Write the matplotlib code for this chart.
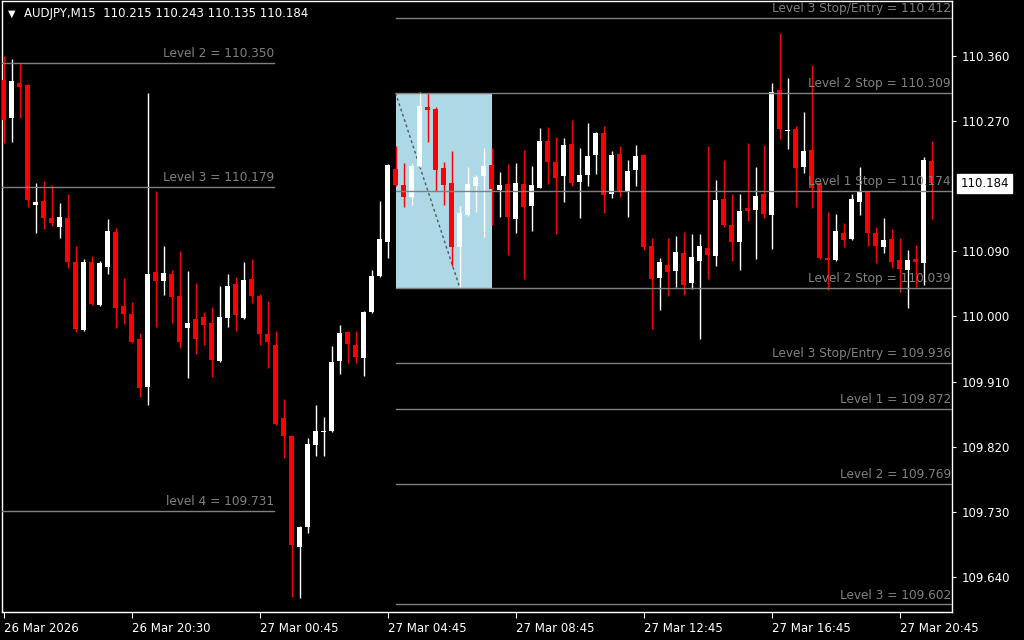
import matplotlib.pyplot as plt
import matplotlib.patches as mpatches
import numpy as np

# AUDJPY M15 candles
opens = [110.327, 110.274, 110.323, 110.320, 110.154, 110.160, 110.136, 110.124, 110.136, 110.075,
         109.981, 110.075, 110.016, 110.068, 110.117, 110.015, 110.003, 109.969, 109.903, 110.062,
         110.049, 110.059, 110.028, 109.984, 109.997, 109.999, 109.991, 109.938, 109.998, 110.045,
         109.998, 110.052, 110.028, 109.976, 109.961, 109.860, 109.835, 109.681, 109.709, 109.822,
         109.840, 109.842, 109.938, 109.979, 109.961, 109.942, 110.006, 110.056, 110.103, 110.204,
         110.182, 110.165, 110.208, 110.289, 110.287, 110.205, 110.185, 110.096, 110.140, 110.180,
         110.194, 110.209, 110.175, 110.183, 110.135, 110.183, 110.153, 110.178, 110.243, 110.214,
         110.194, 110.238, 110.186, 110.196, 110.223, 110.254, 110.169, 110.225, 110.173, 110.202,
         110.223, 110.097, 110.053, 110.071, 110.063, 110.088, 110.046, 110.077, 110.095, 110.084,
         110.162, 110.126, 110.103, 110.150, 110.147, 110.169, 110.140, 110.313, 110.256, 110.259,
         110.207, 110.230, 110.185, 110.081, 110.078, 110.115, 110.107, 110.158, 110.173, 110.115,
         110.096, 110.107, 110.078, 110.064, 110.079, 110.074, 110.215]
highs = [110.360, 110.356, 110.350, 110.321, 110.185, 110.187, 110.182, 110.157, 110.169, 110.097,
         110.079, 110.084, 110.076, 110.135, 110.122, 110.053, 110.020, 109.977, 110.309, 110.173,
         110.097, 110.064, 110.091, 110.063, 110.046, 110.006, 110.013, 110.042, 110.059, 110.055,
         110.075, 110.079, 110.031, 110.021, 109.980, 109.886, 109.836, 109.710, 109.832, 109.878,
         109.861, 109.959, 109.988, 109.980, 109.980, 110.007, 110.064, 110.160, 110.211, 110.236,
         110.212, 110.211, 110.310, 110.309, 110.289, 110.214, 110.229, 110.153, 110.207, 110.196,
         110.233, 110.233, 110.200, 110.211, 110.212, 110.230, 110.208, 110.261, 110.262, 110.248,
         110.247, 110.272, 110.233, 110.267, 110.255, 110.263, 110.229, 110.236, 110.216, 110.237,
         110.224, 110.108, 110.081, 110.108, 110.111, 110.117, 110.114, 110.114, 110.236, 110.189,
         110.216, 110.169, 110.169, 110.240, 110.207, 110.237, 110.323, 110.392, 110.330, 110.263,
         110.283, 110.348, 110.186, 110.144, 110.142, 110.129, 110.169, 110.207, 110.174, 110.124,
         110.136, 110.121, 110.108, 110.092, 110.099, 110.220, 110.243]
lows = [110.240, 110.241, 110.274, 110.151, 110.115, 110.121, 110.125, 110.108, 110.067, 109.979,
        109.980, 110.016, 110.015, 110.059, 109.984, 109.990, 109.964, 109.889, 109.878, 109.986,
        110.030, 109.991, 109.957, 109.915, 109.948, 109.961, 109.916, 109.937, 109.986, 109.980,
        109.997, 110.019, 109.961, 109.929, 109.850, 109.804, 109.612, 109.611, 109.701, 109.807,
        109.807, 109.841, 109.921, 109.936, 109.936, 109.918, 110.005, 110.055, 110.081, 110.181,
        110.151, 110.154, 110.207, 110.241, 110.173, 110.154, 110.070, 110.041, 110.139, 110.144,
        110.110, 110.126, 110.138, 110.085, 110.115, 110.052, 110.118, 110.177, 110.183, 110.114,
        110.158, 110.180, 110.136, 110.180, 110.197, 110.143, 110.164, 110.165, 110.138, 110.180,
        110.092, 109.983, 110.009, 110.028, 110.041, 110.030, 110.038, 109.969, 110.052, 110.070,
        110.124, 110.077, 110.064, 110.132, 110.079, 110.136, 110.093, 110.245, 110.231, 110.151,
        110.198, 110.150, 110.079, 110.037, 110.077, 110.096, 110.106, 110.140, 110.097, 110.074,
        110.088, 110.067, 110.034, 110.012, 110.041, 110.044, 110.135]
closes = [110.272, 110.326, 110.317, 110.161, 110.158, 110.136, 110.129, 110.138, 110.075, 109.983,
          110.075, 110.017, 110.074, 110.118, 110.012, 110.003, 109.965, 109.901, 110.059, 110.049,
          110.060, 110.027, 109.965, 109.991, 109.969, 109.988, 109.940, 109.999, 110.042, 110.002,
          110.050, 110.028, 109.976, 109.965, 109.851, 109.835, 109.684, 109.709, 109.824, 109.842,
          109.841, 109.937, 109.977, 109.962, 109.944, 110.006, 110.056, 110.107, 110.209, 110.182,
          110.165, 110.208, 110.291, 110.285, 110.202, 110.182, 110.096, 110.143, 110.183, 110.193,
          110.208, 110.176, 110.182, 110.138, 110.185, 110.151, 110.182, 110.243, 110.214, 110.191,
          110.237, 110.185, 110.196, 110.222, 110.254, 110.168, 110.223, 110.172, 110.201, 110.222,
          110.096, 110.052, 110.075, 110.062, 110.089, 110.044, 110.082, 110.097, 110.085, 110.161,
          110.126, 110.103, 110.146, 110.146, 110.167, 110.142, 110.310, 110.259, 110.257, 110.205,
          110.229, 110.178, 110.081, 110.078, 110.118, 110.106, 110.162, 110.172, 110.115, 110.097,
          110.106, 110.075, 110.066, 110.078, 110.075, 110.216, 110.184]

time_ticks = [0, 16, 32, 48, 64, 80, 96, 112]
time_labels = ['26 Mar 2026', '26 Mar 20:30', '27 Mar 00:45', '27 Mar 04:45',
               '27 Mar 08:45', '27 Mar 12:45', '27 Mar 16:45', '27 Mar 20:45']
price_ticks = [110.360, 110.270, 110.090, 110.000, 109.910, 109.820, 109.730, 109.640]

# levels drawn on the left part of the chart
left_levels = [110.350, 110.179, 109.731]
left_names = ['Level 2', 'Level 3', 'level 4']
# levels drawn from the box to the right edge
right_levels = [110.412, 110.309, 110.174, 110.039, 109.936, 109.872, 109.769, 109.602]
right_names = ['Level 3 Stop/Entry', 'Level 2 Stop', 'Level 1 Stop', 'Level 2 Stop',
               'Level 3 Stop/Entry', 'Level 1', 'Level 2', 'Level 3']
box_top, box_bottom = 110.309, 110.039
box_start, box_end = 49, 61
last_price = 110.184

o = np.array(opens); h = np.array(highs); l = np.array(lows); c = np.array(closes)
x = np.arange(len(o))
up = c >= o
cols = np.where(up, '#ffffff', '#ff0000')

fig = plt.figure(figsize=(10.24, 6.4), dpi=100, facecolor='black')
ax = fig.add_axes([2 / 1024, 28 / 640, 950 / 1024, 611 / 640])
ax.set_facecolor('black')
ax.set_xlim(-0.19, 118.56)
ax.set_ylim(109.5916, 110.436)

# analysis box in background
ax.add_patch(mpatches.Rectangle((box_start, box_bottom), box_end - box_start, box_top - box_bottom,
                                facecolor='#add8e6', edgecolor='none', zorder=1))
ax.plot([box_start, 57], [box_top, 110.041], color='#555555', lw=1, ls=(0, (2, 2)), zorder=2)

# candles
ax.vlines(x, l, h, colors=cols, lw=1, zorder=3)
body_bot = np.minimum(o, c)
body_h = np.maximum(np.abs(c - o), 0.0014)
ax.bar(x, body_h, bottom=body_bot, width=0.62, color=cols, edgecolor='none', zorder=4)

# level lines
gray = '#808080'
for lv, nm in zip(left_levels, left_names):
    ax.plot([-0.19, 33.8], [lv, lv], color=gray, lw=1, zorder=5)
    ax.text(33.8, lv + 0.004, '%s = %.3f' % (nm, lv), color=gray, fontsize=8.7,
            ha='right', va='bottom', zorder=6)
for lv, nm in zip(right_levels, right_names):
    ax.plot([box_start, 118.56], [lv, lv], color=gray, lw=1, zorder=5)
    ax.text(118.45, lv + 0.004, '%s = %.3f' % (nm, lv), color=gray, fontsize=8.7,
            ha='right', va='bottom', zorder=6)

# axes styling
for s in ax.spines.values():
    s.set_color('white')
    s.set_linewidth(1)
ax.yaxis.tick_right()
ax.set_yticks(price_ticks)
ax.set_yticklabels(['%.3f' % p for p in price_ticks])
ax.tick_params(axis='y', colors='white', length=3, pad=4, labelsize=8.5)
ax.set_xticks(time_ticks)
ax.set_xticklabels(time_labels)
ax.tick_params(axis='x', colors='white', length=4, pad=3, labelsize=8.5)
for t in ax.get_xticklabels():
    t.set_ha('left')

# current price tag
ax.annotate('%.3f' % last_price, xy=(1.0, last_price), xycoords=('axes fraction', 'data'),
            xytext=(6, 0), textcoords='offset points', color='black', fontsize=8.5,
            va='center', ha='left',
            bbox=dict(boxstyle='square,pad=0.25', facecolor='white', edgecolor='white'),
            annotation_clip=False)

# header
fig.text(8 / 1024, 1 - 14 / 640, '\u25bc', color='white', fontsize=7, va='center', ha='left')
fig.text(24 / 1024, 1 - 14 / 640, 'AUDJPY,M15  110.215 110.243 110.135 110.184',
         color='white', fontsize=8.5, va='center', ha='left')

fig.savefig('out.png', dpi=100, facecolor='black')
